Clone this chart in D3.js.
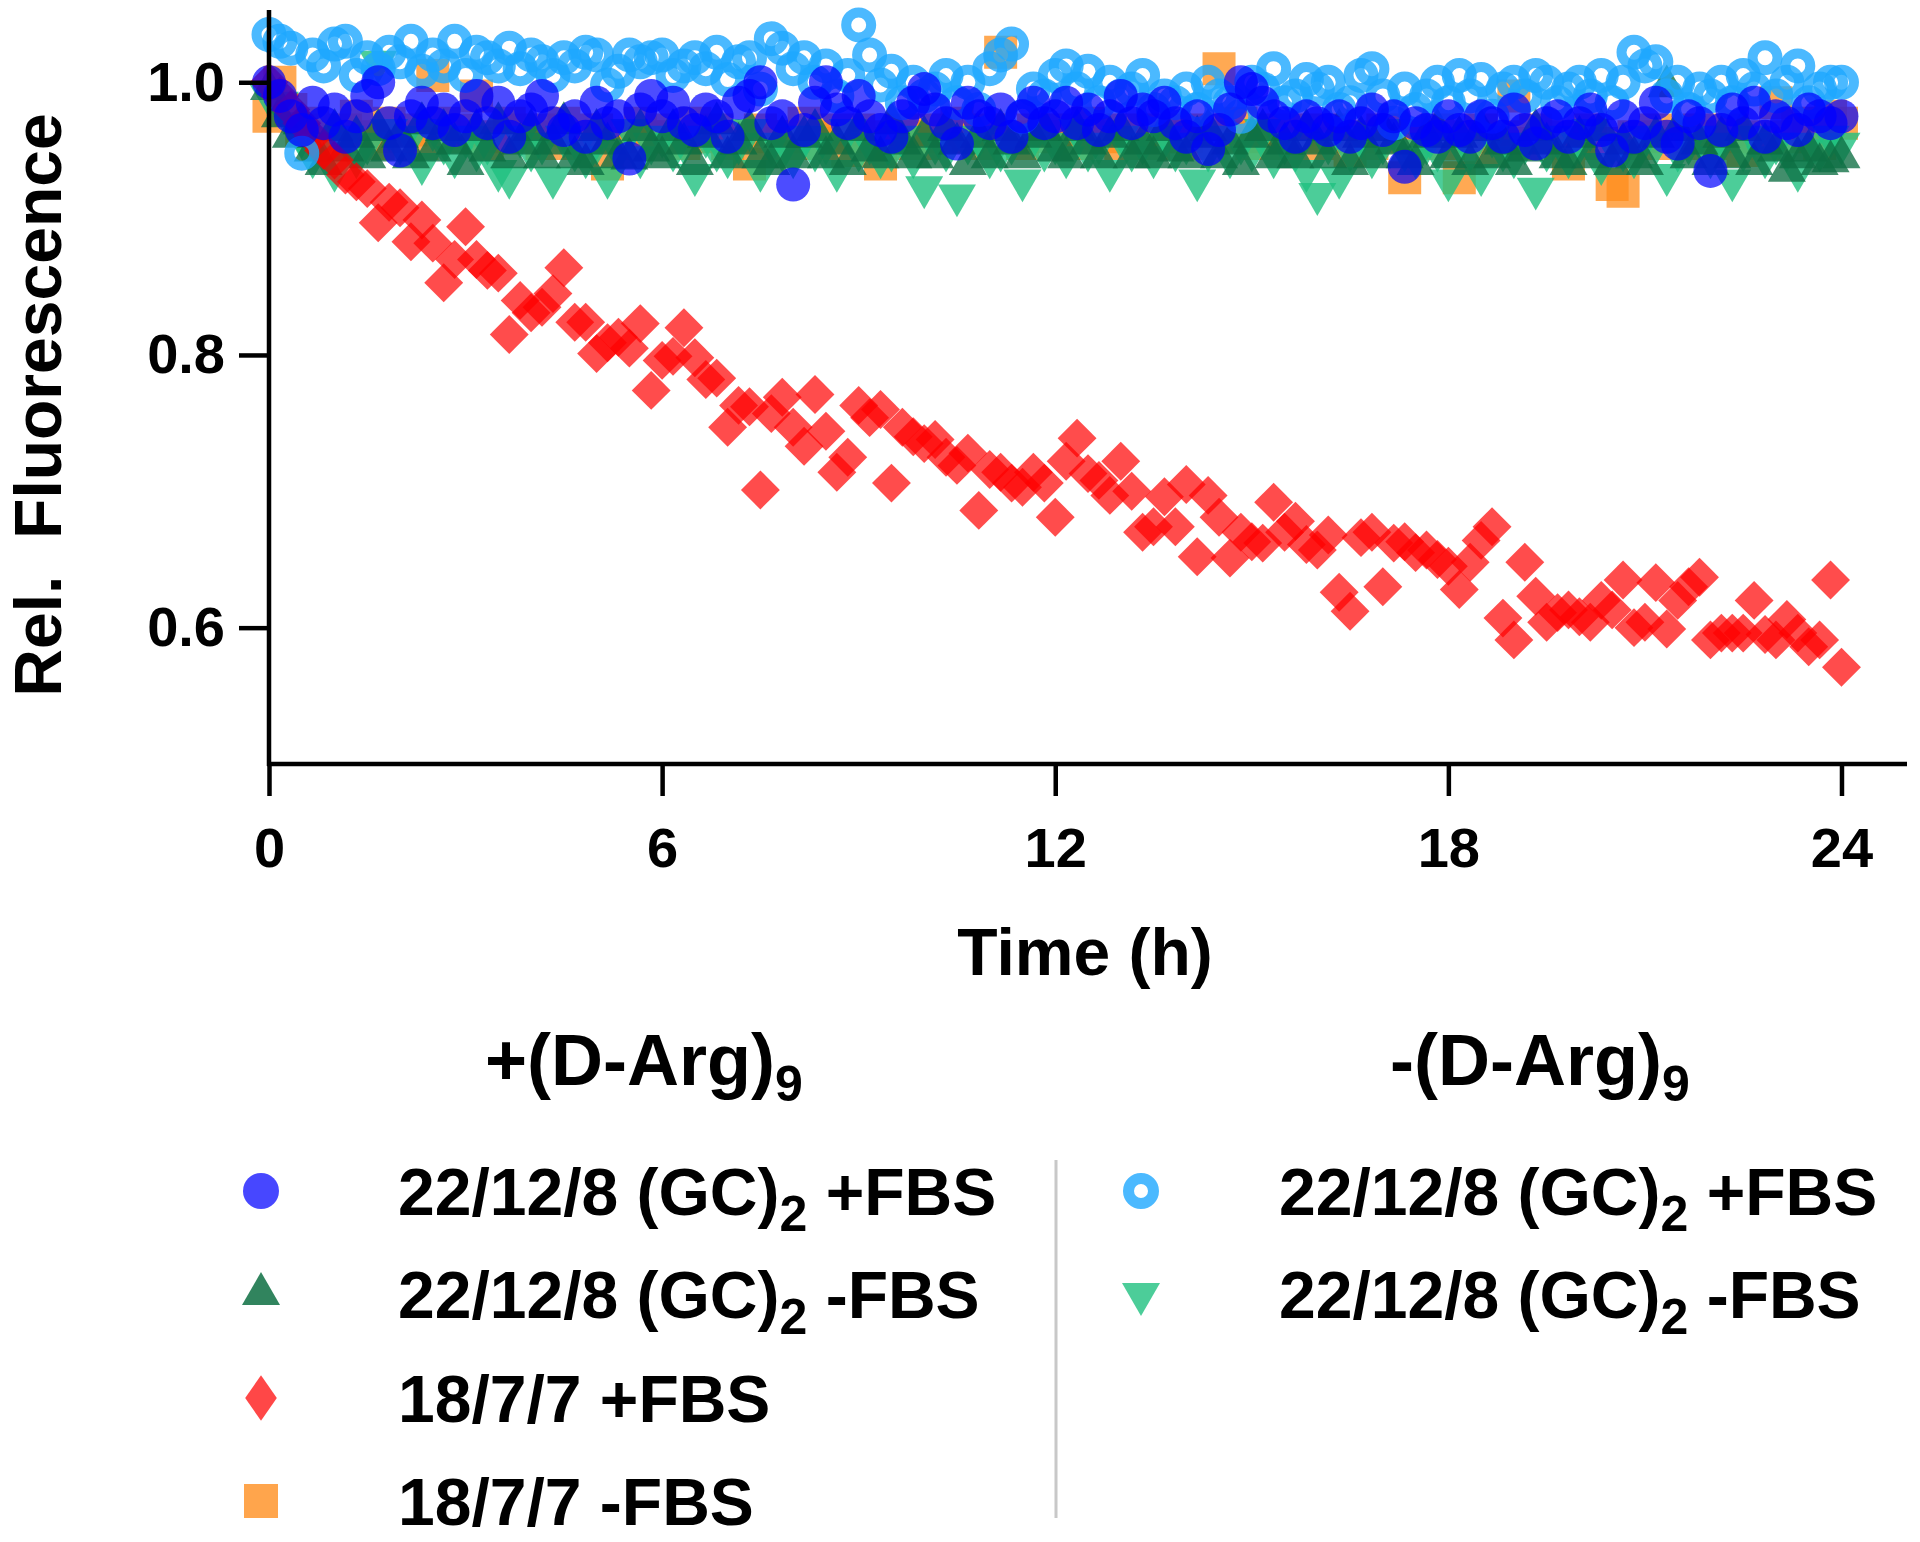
<!DOCTYPE html>
<html><head>
<meta charset="utf-8">
<title>Rel. Fluorescence over time</title>
<script src="https://d3js.org/d3.v7.min.js"></script>
<style>
body { margin: 0; background: #fff; }
svg { font-family: "Liberation Sans", Arial, Helvetica, sans-serif; font-weight: bold; }
text { white-space: pre; }
</style>
</head>
<body>
<svg id="chart" width="1920" height="1542"></svg>
<script>
// readings every 10 min (1/6 h), 0 .. 24 h
const stepHours = 1 / 6;
const xTicks = [0, 6, 12, 18, 24];
const yTicks = [0.6, 0.8, 1.0];

// +(D-Arg)9, 22/12/8 (GC)2 +FBS  (blue circles)
const blueVals = [
  1.0, 0.99, 0.975, 0.965, 0.985, 0.97, 0.98, 0.96, 0.975, 0.99, 1.0, 0.97,
  0.95, 0.975, 0.985, 0.97, 0.98, 0.965, 0.975, 0.99, 0.97, 0.985, 0.96, 0.975,
  0.98, 0.99, 0.97, 0.965, 0.975, 0.96, 0.985, 0.97, 0.975, 0.944, 0.98, 0.99,
  0.975, 0.985, 0.97, 0.965, 0.98, 0.975, 0.96, 0.985, 0.99, 1.0, 0.97, 0.975,
  0.925, 0.965, 0.985, 1.0, 0.98, 0.97, 0.99, 0.975, 0.965, 0.96, 0.975, 0.985,
  0.995, 0.98, 0.97, 0.955, 0.985, 0.975, 0.97, 0.98, 0.96, 0.975, 0.985, 0.97,
  0.975, 0.985, 0.97, 0.98, 0.965, 0.975, 0.99, 0.97, 0.98, 0.975, 0.985, 0.97,
  0.96, 0.975, 0.951, 0.965, 0.98, 1.0, 0.995, 0.985, 0.975, 0.97, 0.96, 0.975,
  0.97, 0.965, 0.975, 0.96, 0.97, 0.98, 0.965, 0.975, 0.938, 0.97, 0.965, 0.96,
  0.975, 0.965, 0.96, 0.975, 0.97, 0.96, 0.98, 0.965, 0.955, 0.97, 0.975, 0.96,
  0.97, 0.98, 0.965, 0.95, 0.975, 0.96, 0.97, 0.985, 0.96, 0.955, 0.975, 0.97,
  0.935, 0.965, 0.98, 0.97, 0.985, 0.96, 0.975, 0.97, 0.965, 0.98, 0.975, 0.97,
  0.975
];

// +(D-Arg)9, 22/12/8 (GC)2 -FBS  (dark green triangles)
const darkGreenVals = [
  0.995, 0.975, 0.96, 0.97, 0.95, 0.94, 0.965, 0.95, 0.96, 0.945, 0.965, 0.95,
  0.96, 0.945, 0.97, 0.95, 0.965, 0.955, 0.94, 0.965, 0.95, 0.97, 0.945, 0.955,
  0.965, 0.945, 0.955, 0.97, 0.945, 0.94, 0.965, 0.955, 0.945, 0.944, 0.965, 0.95,
  0.945, 0.965, 0.955, 0.94, 0.96, 0.97, 0.945, 0.955, 0.965, 0.945, 0.94, 0.96,
  0.945, 0.96, 0.965, 0.945, 0.955, 0.94, 0.965, 0.95, 0.945, 0.97, 0.955, 0.945,
  0.96, 0.945, 0.965, 0.955, 0.94, 0.96, 0.945, 0.965, 0.955, 0.945, 0.96, 0.965,
  0.95, 0.945, 0.965, 0.955, 0.945, 0.96, 0.965, 0.945, 0.955, 0.945, 0.965, 0.95,
  0.945, 0.96, 0.965, 0.945, 0.955, 0.94, 0.96, 0.965, 0.945, 0.955, 0.945, 0.965,
  0.955, 0.945, 0.965, 0.94, 0.96, 0.945, 0.965, 0.955, 0.945, 0.94, 0.96, 0.965,
  0.945, 0.96, 0.94, 0.965, 0.945, 0.955, 0.94, 0.95, 0.965, 0.955, 0.945, 0.94,
  0.96, 0.945, 0.965, 0.94, 0.955, 0.945, 0.94, 0.96, 0.997, 0.965, 0.945, 0.955,
  0.94, 0.96, 0.945, 0.965, 0.94, 0.955, 0.95, 0.935, 0.945, 0.95, 0.94, 0.942,
  0.945
];

// +(D-Arg)9, 18/7/7 +FBS  (red diamonds)
const redVals = [
  1.0, 0.99, 0.98, 0.97, 0.96, 0.95, 0.943, 0.932, 0.927, 0.922, 0.897, 0.912,
  0.908, 0.883, 0.899, 0.882, 0.853, 0.87, 0.894, 0.87, 0.862, 0.86, 0.815, 0.84,
  0.831, 0.835, 0.845, 0.864, 0.824, 0.824, 0.801, 0.809, 0.813, 0.805, 0.823, 0.774,
  0.796, 0.799, 0.82, 0.798, 0.782, 0.783, 0.747, 0.763, 0.762, 0.701, 0.757, 0.769,
  0.747, 0.733, 0.771, 0.744, 0.714, 0.725, 0.763, 0.754, 0.76, 0.706, 0.747, 0.74,
  0.735, 0.738, 0.725, 0.719, 0.728, 0.686, 0.716, 0.714, 0.706, 0.703, 0.714, 0.706,
  0.681, 0.722, 0.739, 0.713, 0.708, 0.697, 0.722, 0.7, 0.67, 0.674, 0.696, 0.674,
  0.705, 0.652, 0.697, 0.681, 0.651, 0.67, 0.663, 0.662, 0.692, 0.67, 0.678, 0.661,
  0.657, 0.668, 0.626, 0.612, 0.666, 0.67, 0.63, 0.662, 0.663, 0.655, 0.657, 0.65,
  0.645, 0.628, 0.648, 0.664, 0.674, 0.607, 0.591, 0.648, 0.623, 0.604, 0.611, 0.613,
  0.608, 0.604, 0.62, 0.613, 0.635, 0.6, 0.604, 0.633, 0.599, 0.62, 0.63, 0.637,
  0.591, 0.596, 0.596, 0.596, 0.62, 0.595, 0.591, 0.606, 0.596, 0.586, 0.591, 0.635,
  0.571
];

// +(D-Arg)9, 18/7/7 -FBS  (orange squares)
const orangeVals = [
  0.975, 1.0, 0.98, 0.965, 0.97, 0.96, 0.955, 0.965, 0.975, 0.96, 0.955, 0.97,
  0.96, 0.965, 0.955, 1.005, 0.97, 0.96, 0.965, 0.99, 0.955, 0.96, 0.97, 0.965,
  0.96, 0.955, 0.965, 0.97, 0.955, 0.96, 0.965, 0.94, 0.96, 0.955, 0.97, 0.96,
  0.965, 0.96, 0.955, 0.97, 0.96, 0.965, 0.955, 0.96, 0.94, 0.965, 0.96, 0.955,
  0.96, 0.97, 0.955, 0.965, 0.96, 0.95, 0.965, 0.96, 0.94, 0.955, 0.965, 0.96,
  0.955, 0.965, 0.96, 0.97, 0.96, 0.955, 0.965, 1.022, 0.96, 0.955, 0.965, 0.96,
  0.965, 0.96, 0.955, 0.97, 0.96, 0.965, 0.955, 0.96, 0.965, 0.955, 0.96, 0.965,
  0.96, 0.955, 0.965, 1.01, 0.96, 0.97, 0.955, 0.96, 0.965, 0.955, 0.96, 0.965,
  0.955, 0.96, 0.965, 0.95, 0.96, 0.955, 0.965, 0.96, 0.93, 0.955, 0.96, 0.965,
  0.955, 0.93, 0.96, 0.965, 0.95, 0.96, 0.99, 0.955, 0.965, 0.96, 0.955, 0.94,
  0.96, 0.965, 0.955, 0.925, 0.92, 0.96, 0.955, 0.965, 0.96, 0.955, 0.96, 0.965,
  0.955, 0.96, 0.965, 0.95, 0.96, 0.955, 0.985, 0.96, 0.97, 0.965, 0.955, 0.975,
  0.97
];

// -(D-Arg)9, 22/12/8 (GC)2 +FBS  (light blue rings)
const ringVals = [
  1.035, 1.03, 1.025, 0.948, 1.02, 1.012, 1.028, 1.03, 1.005, 1.018, 1.01, 1.022,
  1.015, 1.03, 1.008, 1.02, 1.012, 1.03, 1.005, 1.022, 1.018, 1.012, 1.025, 1.01,
  1.02, 1.015, 1.005, 1.018, 1.012, 1.022, 1.02, 0.998, 1.008, 1.02, 1.015, 1.018,
  1.02, 1.005, 1.012, 1.018, 1.01, 1.022, 1.002, 1.015, 1.018, 0.995, 1.032, 1.025,
  1.01, 1.018, 1.0, 1.012, 0.99, 1.005, 1.042, 1.02, 0.998, 1.008, 0.985, 1.0,
  0.99, 0.995, 1.005, 0.985, 1.0, 0.98, 1.01, 1.02, 1.028, 0.975, 0.995, 0.99,
  1.005, 1.012, 0.995, 1.008, 0.985, 1.0, 0.99, 0.995, 1.005, 0.98, 0.99, 0.985,
  0.995, 0.98, 1.0, 0.99, 0.985, 0.975, 1.0, 0.995, 1.01, 0.985, 0.99, 1.002,
  0.995, 1.0, 0.98, 0.985, 1.005, 1.01, 0.99, 0.97, 0.995, 0.98, 0.99, 1.0,
  0.985, 1.005, 0.99, 1.002, 0.975, 0.995, 1.0, 0.99, 1.005, 1.0, 0.985, 0.995,
  1.0, 0.99, 1.005, 0.985, 1.0, 1.022, 1.012, 1.015, 0.99, 1.0, 0.98, 0.995,
  0.99, 1.0, 0.985, 1.005, 0.995, 1.018, 0.99, 1.0, 1.012, 0.985, 0.995, 1.0,
  1.0
];

// -(D-Arg)9, 22/12/8 (GC)2 -FBS  (light green down triangles)
const lightGreenVals = [
  0.99, 0.985, 0.97, 0.96, 0.945, 0.955, 0.935, 0.96, 0.945, 0.955, 1.015, 0.965,
  0.955, 0.96, 0.94, 0.965, 0.955, 0.945, 0.96, 0.95, 0.955, 0.935, 0.93, 0.96,
  0.95, 0.955, 0.93, 0.96, 0.95, 0.945, 0.955, 0.93, 0.95, 0.965, 0.945, 0.955,
  0.96, 0.95, 0.955, 0.932, 0.96, 0.95, 0.945, 0.955, 0.965, 0.935, 0.955, 0.95,
  0.945, 0.96, 0.95, 0.955, 0.935, 0.965, 0.95, 0.955, 0.945, 0.95, 0.96, 0.945,
  0.923, 0.955, 0.95, 0.917, 0.955, 0.96, 0.945, 0.95, 0.955, 0.928, 0.96, 0.95,
  0.955, 0.945, 0.965, 0.95, 0.955, 0.935, 0.96, 0.95, 0.955, 0.945, 0.96, 0.95,
  0.955, 0.928, 0.95, 0.96, 0.945, 0.955, 0.95, 0.965, 0.945, 0.955, 0.95, 0.935,
  0.918, 0.955, 0.93, 0.95, 0.96, 0.945, 0.955, 0.965, 0.95, 0.945, 0.955, 0.95,
  0.928, 0.955, 0.95, 0.932, 0.96, 0.95, 0.945, 0.955, 0.922, 0.95, 0.96, 0.945,
  0.955, 0.965, 0.94, 0.955, 0.95, 0.945, 0.96, 0.955, 0.932, 0.95, 0.955, 0.96,
  0.945, 0.955, 0.928, 0.95, 0.96, 0.945, 0.955, 0.95, 0.935, 0.955, 0.95, 0.96,
  0.955
];

const svg = d3.select("#chart");
const x = d3.scaleLinear().domain([0, 25]).range([269, 1907]);
const y = d3.scaleLinear().domain([0.5, 1.053]).range([764, 10]);

// series in drawing order (first = bottom)
const series = [
  {vals: orangeVals,     shape: "square",   fill: "#ff8c1a", op: 0.75, size: 33},
  {vals: lightGreenVals, shape: "down",     fill: "#1fc080", op: 0.8,  size: 38},
  {vals: darkGreenVals,  shape: "up",       fill: "#0d6e42", op: 0.78, size: 38},
  {vals: redVals,        shape: "diamond",  fill: "#ff0000", op: 0.7,  size: 27.5},
  {vals: ringVals,       shape: "ring",     fill: "#1ea7ff", op: 0.8,  size: 12.5},
  {vals: blueVals,       shape: "circle",   fill: "#0000ff", op: 0.7,  size: 17}
];

function drawMark(g, shape, fill, op, size, big) {
  if (shape === "circle") {
    g.append("circle").attr("r", size).attr("fill", fill).attr("fill-opacity", op);
  } else if (shape === "ring") {
    g.append("circle").attr("r", size).attr("fill", "none")
      .attr("stroke", fill).attr("stroke-opacity", op)
      .attr("stroke-width", big ? 11 : 10);
  } else if (shape === "square") {
    g.append("path").attr("d", d3.symbol(d3.symbolSquare, size * size)())
      .attr("fill", fill).attr("fill-opacity", op);
  } else if (shape === "diamond") {
    // legend diamond is a little taller than wide
    g.append("path").attr("d", d3.symbol(d3.symbolSquare, size * size)())
      .attr("transform", big ? "scale(0.8,1.15) rotate(45)" : "rotate(45)")
      .attr("fill", fill).attr("fill-opacity", op);
  } else {
    const area = Math.sqrt(3) / 4 * size * size;
    g.append("path").attr("d", d3.symbol(d3.symbolTriangle, area)())
      .attr("transform", shape === "down" ? "rotate(180)" : null)
      .attr("fill", fill).attr("fill-opacity", op);
  }
}

const plot = svg.append("g");
series.forEach(s => {
  plot.append("g").selectAll("g").data(s.vals)
    .join("g")
    .attr("transform", (d, i) => `translate(${x(i * stepHours)},${y(d)})`)
    .each(function() { drawMark(d3.select(this), s.shape, s.fill, s.op, s.size, false); });
});

// axes
const xAxis = svg.append("g").attr("transform", "translate(0,764)")
  .call(d3.axisBottom(x).tickValues(xTicks).tickSize(32).tickSizeOuter(0).tickPadding(31));
const yAxis = svg.append("g").attr("transform", "translate(269,0)")
  .call(d3.axisLeft(y).tickValues(yTicks).tickSize(30).tickSizeOuter(0).tickPadding(14)
    .tickFormat(d3.format(".1f")));
[xAxis, yAxis].forEach(a => {
  a.select(".domain").attr("stroke", "#000").attr("stroke-width", 4.5);
  a.selectAll(".tick line").attr("stroke", "#000").attr("stroke-width", 4.5);
  a.selectAll(".tick text").attr("font-size", 56).attr("font-weight", "bold")
    .attr("font-family", "'Liberation Sans', Arial, sans-serif").attr("fill", "#000");
});
yAxis.select(".domain").attr("d", "M0,10V766");
xAxis.select(".domain").attr("d", "M267,0H1907");

// axis titles
svg.append("text")
  .attr("transform", "translate(61,405) rotate(-90)")
  .attr("text-anchor", "middle").attr("font-size", 66)
  .text("Rel.  Fluorescence");
svg.append("text")
  .attr("x", 1085).attr("y", 975)
  .attr("text-anchor", "middle").attr("font-size", 66)
  .text("Time (h)");

// legend
const legendHeads = [
  {x: 485, main: "+(D-Arg)", sub: "9"},
  {x: 1390, main: "-(D-Arg)", sub: "9"}
];
const legendItems = [
  {col: 0, row: 0, main: "22/12/8 (GC)", sub: "2", tail: " +FBS", shape: "circle",  fill: "#0000ff", op: 0.72, size: 18},
  {col: 0, row: 1, main: "22/12/8 (GC)", sub: "2", tail: " -FBS", shape: "up",      fill: "#0d6e42", op: 0.85, size: 38},
  {col: 0, row: 2, main: "18/7/7 +FBS",  sub: "",  tail: "",       shape: "diamond", fill: "#ff0000", op: 0.72, size: 28},
  {col: 0, row: 3, main: "18/7/7 -FBS",  sub: "",  tail: "",       shape: "square",  fill: "#ff8c1a", op: 0.78, size: 34},
  {col: 1, row: 0, main: "22/12/8 (GC)", sub: "2", tail: " +FBS", shape: "ring",    fill: "#1ea7ff", op: 0.8,  size: 12.5},
  {col: 1, row: 1, main: "22/12/8 (GC)", sub: "2", tail: " -FBS", shape: "down",    fill: "#1fc080", op: 0.8,  size: 38}
];
const colMarkX = [261, 1141];
const colTextX = [398, 1279];
const rowBase = [1215, 1318, 1422, 1525];

legendHeads.forEach(h => {
  const t = svg.append("text").attr("x", h.x).attr("y", 1085).attr("font-size", 72);
  t.append("tspan").text(h.main);
  t.append("tspan").attr("font-size", 50).attr("dy", 16).text(h.sub);
});

legendItems.forEach(it => {
  const g = svg.append("g")
    .attr("transform", `translate(${colMarkX[it.col]},${rowBase[it.row] - 24})`);
  drawMark(g, it.shape, it.fill, it.op, it.size, true);
  const t = svg.append("text").attr("x", colTextX[it.col]).attr("y", rowBase[it.row])
    .attr("font-size", 66);
  t.append("tspan").text(it.main);
  if (it.sub) {
    t.append("tspan").attr("font-size", 50).attr("dy", 16).text(it.sub);
    t.append("tspan").attr("dy", -16).text(it.tail);
  }
});

svg.append("line")
  .attr("x1", 1056).attr("x2", 1056).attr("y1", 1160).attr("y2", 1518)
  .attr("stroke", "#c8c8c8").attr("stroke-width", 3);
</script>
</body>
</html>
